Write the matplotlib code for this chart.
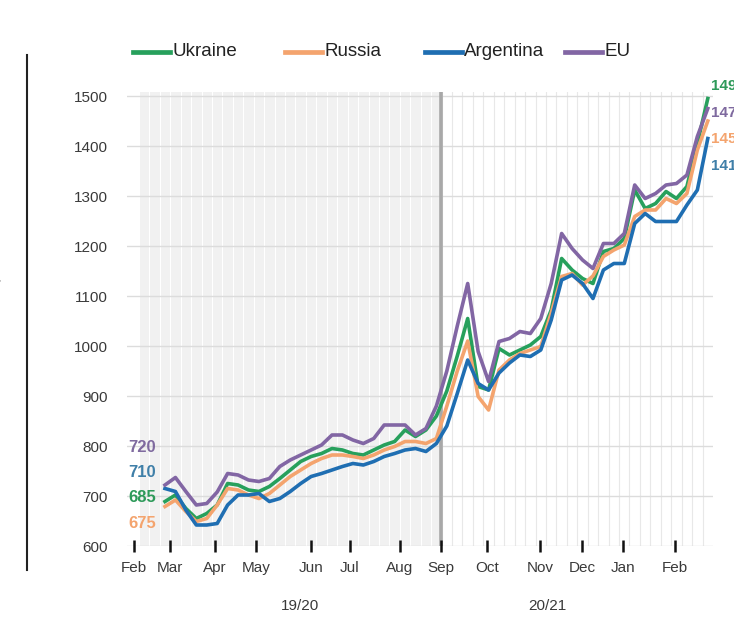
import matplotlib
matplotlib.use("Agg")
import matplotlib.pyplot as plt
import numpy as np
from matplotlib.lines import Line2D

plt.rcParams['font.family'] = ['Liberation Sans', 'DejaVu Sans']

series_names = ["Ukraine", "Russia", "Argentina", "EU"]
colors = ["#27a05c", "#f4a46e", "#1f6eb2", "#8266a4"]

ukraine = [689, 702, 675, 655, 665, 682, 725, 722, 712, 709, 719, 735, 752, 769, 779, 785, 795, 792,
           785, 782, 792, 802, 809, 832, 819, 832, 860, 910, 980, 1055, 919, 912, 995, 982, 992, 1002,
           1019, 1072, 1175, 1152, 1135, 1125, 1189, 1195, 1215, 1312, 1275, 1285, 1309, 1295, 1319,
           1405, 1495]
russia = [679, 692, 669, 649, 655, 682, 715, 712, 702, 695, 705, 722, 739, 752, 765, 775, 782, 782,
          779, 775, 782, 792, 799, 809, 809, 805, 815, 880, 950, 1010, 899, 872, 952, 972, 985, 992,
          999, 1066, 1139, 1145, 1122, 1140, 1179, 1192, 1202, 1259, 1272, 1272, 1295, 1285, 1305,
          1392, 1450]
argentina = [715, 709, 672, 642, 642, 645, 682, 702, 702, 705, 689, 695, 709, 725, 739, 745, 752, 759,
             765, 762, 769, 779, 785, 792, 795, 789, 805, 840, 905, 972, 925, 912, 946, 966, 982, 979,
             992, 1052, 1132, 1142, 1125, 1095, 1152, 1165, 1165, 1245, 1265, 1249, 1249, 1249, 1282,
             1312, 1415]
eu = [722, 737, 709, 682, 685, 708, 745, 742, 732, 729, 735, 759, 772, 782, 792, 802, 822, 822,
      812, 805, 815, 842, 842, 842, 822, 835, 880, 950, 1040, 1125, 989, 929, 1009, 1015, 1029, 1025,
      1055, 1125, 1225, 1195, 1172, 1155, 1205, 1205, 1225, 1322, 1295, 1305, 1322, 1325, 1342,
      1419, 1475]
all_series = [ukraine, russia, argentina, eu]

start_labels = ["720", "710", "685", "675"]
start_label_colors = ["#7f6a9f", "#3f7fa8", "#2e9a5a", "#f4a46e"]
end_labels = ["1495", "1475", "1450", "1415"]
end_label_colors = ["#2e9a5a", "#7f6a9f", "#f4a46e", "#3f7fa8"]

month_labels = ["Feb", "Mar", "Apr", "May", "Jun", "Jul", "Aug", "Sep", "Oct", "Nov", "Dec", "Jan", "Feb"]
month_pos = [-2.97, 0.48, 4.79, 8.72, 13.98, 17.72, 22.5, 26.44, 30.84, 35.92, 39.94, 43.87, 48.85]
season_labels = ["19/20", "20/21"]
split_pos = 26.44

W, H = 734, 617
fig = plt.figure(figsize=(W / 100, H / 100), dpi=100)
ax = fig.add_axes([127 / W, 1 - 546 / H, (713 - 127) / W, (546 - 92) / H])

xmin, xmax = -3.64, 52.5
ax.set_xlim(xmin, xmax)
ax.set_ylim(600, 1508)

# backgrounds
ax.axvspan(xmin + 1.2, split_pos, color="#f1f1f1", zorder=0, lw=0)
for k in np.arange(-2.5, xmax, 1.0):
    c = "#ffffff" if k < split_pos else "#e8e8e8"
    ax.axvline(k, color=c, lw=0.8, zorder=0.5)
for v in range(600, 1501, 100):
    ax.axhline(v, color="#dcdcdc", lw=1.0, zorder=0.6)
ax.axvline(split_pos, color="#a8a8a8", lw=2.6, zorder=1)

x = np.arange(len(ukraine))
for name, vals, c in zip(series_names, all_series, colors):
    ax.plot(x, vals, color=c, lw=2.6, label=name, zorder=3)

for s in ax.spines.values():
    s.set_visible(False)

ax.set_yticks(range(600, 1501, 100))
ax.set_yticklabels([str(v) for v in range(600, 1501, 100)], fontsize=11, color="#3a3a3a")
ax.tick_params(axis="y", length=0, pad=14)
ax.set_xticks(month_pos)
ax.set_xticklabels(month_labels, fontsize=11, color="#3a3a3a")
ax.tick_params(axis="x", direction="inout", length=9, width=1.8, color="#111111", pad=6)

# start and end labels
for i, (t, c) in enumerate(zip(start_labels, start_label_colors)):
    fig.text(156 / W, 1 - (447 + 25.5 * i) / H, t, color=c, fontsize=12, fontweight="bold",
             ha="right", va="center")
for i, (t, c) in enumerate(zip(end_labels, end_label_colors)):
    fig.text(711 / W, 1 - (86 + 26.7 * i) / H, t, color=c, fontsize=11, fontweight="bold",
             ha="left", va="center")

fig.text(300 / W, 1 - 606 / H, season_labels[0], fontsize=11, color="#3a3a3a", ha="center", va="center")
fig.text(547 / W, 1 - 606 / H, season_labels[1], fontsize=11, color="#3a3a3a", ha="center", va="center")

# legend (keys placed like the reference)
legend_x = [133, 285, 425, 565]
for lx, name, c in zip(legend_x, series_names, colors):
    fig.add_artist(Line2D([lx / W, (lx + 37) / W], [1 - 52 / H, 1 - 52 / H], color=c, lw=3.4))
    fig.text((lx + 39) / W, 1 - 52 / H, name, fontsize=13.5, color="#222222", ha="left", va="center")

# left decorative line and cropped axis title
fig.add_artist(Line2D([27 / W, 27 / W], [1 - 55 / H, 1 - 570 / H], color="#222222", lw=1.5))
fig.text(-6 / W, 1 - 285 / H, "US$/t", rotation=90, fontsize=13, color="#444444", ha="center", va="center")

fig.savefig("out.png", dpi=100, facecolor="white")
